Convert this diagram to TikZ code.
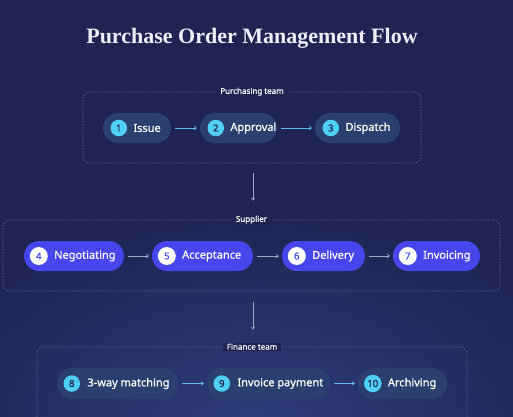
\documentclass[tikz,border=0pt]{standalone}
\usepackage{fontspec}
\setmainfont{Noto Sans}
\newfontfamily\semifont{Noto Sans}[FakeBold=0.7]
\newfontfamily\titlefont{Liberation Serif}
\usetikzlibrary{arrows.meta,calc}
\definecolor{bg}{HTML}{1F2452}
\definecolor{glow}{HTML}{2E3D7C}
\definecolor{slate}{HTML}{2C406F}
\definecolor{cyanc}{HTML}{4FCFF5}
\definecolor{violet}{HTML}{4646EC}
\definecolor{dashc}{HTML}{5C6290}
\definecolor{arrowb}{HTML}{5DB8EC}
\definecolor{arrowg}{HTML}{A3A6C2}
\definecolor{titlec}{HTML}{EEEFF6}
\tikzset{
  grp/.style={draw=dashc, line width=0.6pt, dash pattern=on 1.5pt off 1.5pt, rounded corners=7pt, minimum height=71pt, inner sep=0pt},
  grplabel/.style={fill=bg, text=white, font=\semifont\fontsize{8}{9}\selectfont, inner xsep=4pt, inner ysep=1pt},
  pillA/.style={fill=slate, rounded corners=15pt, minimum height=30pt, inner sep=0pt},
  pillB/.style={fill=violet, rounded corners=15pt, minimum height=30pt, inner sep=0pt},
  numA/.style={circle, fill=cyanc, text=bg, minimum size=16.5pt, inner sep=0pt, font=\semifont\fontsize{9.5}{10}\selectfont},
  numB/.style={circle, fill=white, text=violet, minimum size=18pt, inner sep=0pt, font=\semifont\fontsize{9.5}{10}\selectfont},
  lbl/.style={text=white, inner sep=0pt, anchor=west, font=\semifont\fontsize{11}{13}\selectfont},
  flowA/.style={draw=arrowb, line width=0.7pt, -{To[length=3pt,width=4pt]}, shorten <=4pt, shorten >=3pt},
  flowB/.style={draw=arrowg, line width=0.7pt, -{To[length=3pt,width=4pt]}, shorten <=4pt, shorten >=3pt},
  down/.style={draw=arrowg, line width=0.7pt, -{To[length=3pt,width=4pt]}},
}
\begin{document}
\begin{tikzpicture}[x=1pt,y=-1pt]
\fill[bg] (0,0) rectangle (513,416);
\begin{scope}
\clip (0,0) rectangle (513,416);
\shade[inner color=glow, outer color=bg] (252,430) ellipse (360 and 220);
\end{scope}
\useasboundingbox (0,0) rectangle (513,416);

\node[text=titlec, font=\titlefont\fontsize{22}{26}\selectfont\bfseries] (title) at (252,38) {Purchase Order Management Flow};

% groups
\node[grp, minimum width=338pt] (g1) at (252,127.5) {};
\node[grplabel] (g1l) at (g1.north) {Purchasing team};
\node[grp, minimum width=497pt] (g2) at (251.5,255.5) {};
\node[grplabel] (g2l) at (g2.north) {Supplier};
\node[grp, minimum width=430pt, minimum height=80pt] (g3) at (252,387) {};
\node[grplabel] (g3l) at (g3.north) {Finance team};

% purchasing
\node[pillA, minimum width=68pt] (p1) at (137,128) {};
\node[numA] (n1) at ($(p1.west)+(16,0)$) {1};
\node[lbl] (t1) at ($(n1.east)+(6,0)$) {Issue};
\node[pillA, minimum width=77pt] (p2) at (238.5,128) {};
\node[numA] (n2) at ($(p2.west)+(16,0)$) {2};
\node[lbl] (t2) at ($(n2.east)+(6,0)$) {Approval};
\node[pillA, minimum width=85pt] (p3) at (357.5,128) {};
\node[numA] (n3) at ($(p3.west)+(16,0)$) {3};
\node[lbl] (t3) at ($(n3.east)+(6,0)$) {Dispatch};
\draw[flowA] (p1) -- (p2);
\draw[flowA] (p2) -- (p3);

% supplier
\node[pillB, minimum width=100pt] (s4) at (74,256) {};
\node[numB] (n4) at ($(s4.west)+(15,0)$) {4};
\node[lbl] (t4) at ($(n4.east)+(6,0)$) {Negotiating};
\node[pillB, minimum width=101pt] (s5) at (202.5,256) {};
\node[numB] (n5) at ($(s5.west)+(15,0)$) {5};
\node[lbl] (t5) at ($(n5.east)+(6,0)$) {Acceptance};
\node[pillB, minimum width=83pt] (s6) at (323.5,256) {};
\node[numB] (n6) at ($(s6.west)+(15,0)$) {6};
\node[lbl] (t6) at ($(n6.east)+(6,0)$) {Delivery};
\node[pillB, minimum width=87pt] (s7) at (436.5,256) {};
\node[numB] (n7) at ($(s7.west)+(15,0)$) {7};
\node[lbl] (t7) at ($(n7.east)+(6,0)$) {Invoicing};
\draw[flowB] (s4) -- (s5);
\draw[flowB] (s5) -- (s6);
\draw[flowB] (s6) -- (s7);

% finance
\node[pillA, minimum width=121pt, minimum height=31pt] (f8) at (117.5,383.5) {};
\node[numA] (n8) at ($(f8.west)+(15,0)$) {8};
\node[lbl] (t8) at ($(n8.east)+(7,0)$) {3-way matching};
\node[pillA, minimum width=123pt, minimum height=31pt] (f9) at (268.5,383.5) {};
\node[numA] (n9) at ($(f9.west)+(15,0)$) {9};
\node[lbl] (t9) at ($(n9.east)+(7,0)$) {Invoice payment};
\node[pillA, minimum width=89pt, minimum height=31pt] (f10) at (402.5,383.5) {};
\node[numA, minimum size=17.5pt] (n10) at ($(f10.west)+(15,0)$) {10};
\node[lbl] (t10) at ($(n10.east)+(6,0)$) {Archiving};
\draw[flowA] (f8) -- (f9);
\draw[flowA] (f9) -- (f10);

% between groups
\draw[down] ($(g1.south)+(1,10)$) coordinate (d1a) -- ($(g2l.north)+(1.5,-14)$) coordinate (d1b);
\draw[down] ($(g2.south)+(1.5,11)$) coordinate (d2a) -- ($(g3l.north)+(1,-13)$) coordinate (d2b);
\end{tikzpicture}
\end{document}
